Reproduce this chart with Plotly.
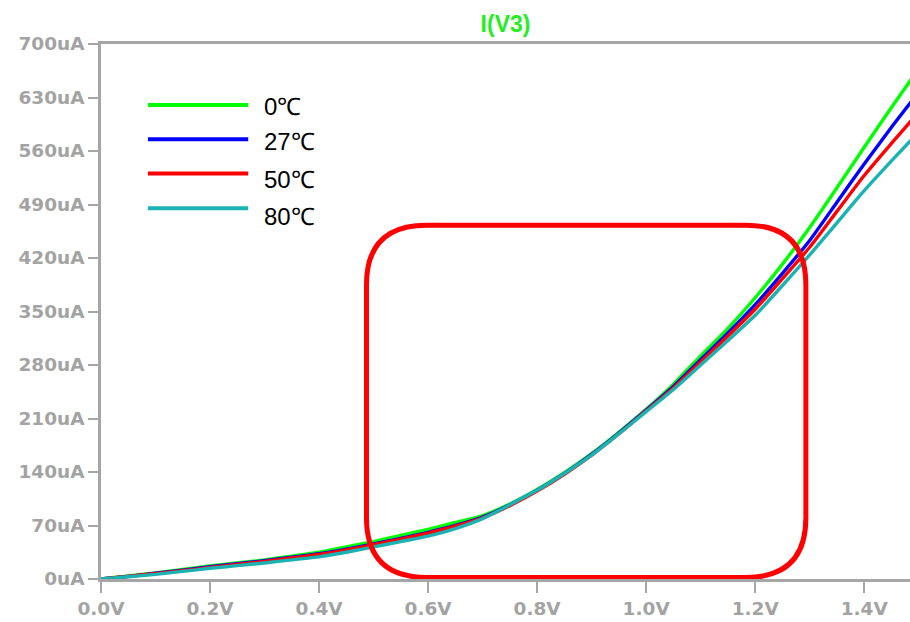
import plotly.graph_objects as go

# ---- data ----
voltage = [0, 0.05, 0.1, 0.15, 0.2, 0.25, 0.3, 0.35, 0.4, 0.45, 0.5, 0.55, 0.6, 0.65,
           0.7, 0.75, 0.8, 0.85, 0.9, 0.95, 1.0, 1.05, 1.1, 1.15, 1.2, 1.25, 1.3,
           1.35, 1.4, 1.45, 1.5]
i_0C = [0, 4, 8, 12.5, 17, 21, 25, 30, 35, 42, 49, 57, 65, 74, 83, 98, 117, 139, 164,
        192, 222, 255, 292, 328, 368, 412, 460, 512, 565, 617, 668]
i_27C = [0, 3.5, 7.5, 11.5, 16, 20, 24, 28.5, 33, 39, 46, 53, 61, 70, 81, 97, 116, 138,
         163, 191, 221, 252, 287, 322, 359, 400, 443, 493, 543, 591, 637]
i_50C = [0, 3.5, 7, 11, 15, 19, 23, 27.5, 32, 38, 45, 52, 60, 69, 80, 96, 115, 137, 162,
         190, 220, 250, 284, 318, 353, 393, 434, 481, 528, 570, 611]
i_80C = [0, 3, 6, 10, 14, 17.5, 21, 25, 29, 35, 42, 49, 56, 66, 79, 97, 116, 138, 162,
         190, 219, 248, 280, 312, 345, 384, 424, 466, 508, 547, 585]

series_names = ["0℃", "27℃", "50℃", "80℃"]
series_colors = ["#00ff00", "#0000ff", "#ff0000", "#1ab2b2"]
series_values = [i_0C, i_27C, i_50C, i_80C]

x_tickvals = [0.0, 0.2, 0.4, 0.6, 0.8, 1.0, 1.2, 1.4]
x_ticktext = ["0.0V", "0.2V", "0.4V", "0.6V", "0.8V", "1.0V", "1.2V", "1.4V"]
y_tickvals = [0, 70, 140, 210, 280, 350, 420, 490, 560, 630, 700]
y_ticktext = ["0uA", "70uA", "140uA", "210uA", "280uA", "350uA", "420uA",
              "490uA", "560uA", "630uA", "700uA"]

title_text = "I(V3)"

# highlight box (data units): x0, x1, y0, y1, corner radius in x and y
box_x0, box_x1, box_y0, box_y1 = 0.487, 1.293, 2, 463
box_rx, box_ry = 0.11, 78

# ---- figure ----
fig = go.Figure()
for name, color, vals in zip(series_names, series_colors, series_values):
    fig.add_trace(go.Scatter(x=voltage, y=vals, mode="lines", name=name,
                             line=dict(color=color, width=3.4, shape="spline",
                                       smoothing=0.6),
                             showlegend=False))

# custom legend (paper coords)
leg_y_line = [0.886, 0.822, 0.758, 0.693]
leg_y_text = [0.884, 0.818, 0.746, 0.677]
for name, color, yl, yt in zip(series_names, series_colors, leg_y_line, leg_y_text):
    fig.add_shape(type="line", xref="paper", yref="paper", x0=0.058, x1=0.182,
                  y0=yl, y1=yl, line=dict(color=color, width=4))
    fig.add_annotation(xref="paper", yref="paper", x=0.199, y=yt, text=name,
                       showarrow=False, xanchor="left", yanchor="middle",
                       font=dict(family="Liberation Sans, Arial", size=24, color="#000000"))

# rounded red rectangle
path = (f"M {box_x0 + box_rx},{box_y0} L {box_x1 - box_rx},{box_y0} "
        f"Q {box_x1},{box_y0} {box_x1},{box_y0 + box_ry} "
        f"L {box_x1},{box_y1 - box_ry} "
        f"Q {box_x1},{box_y1} {box_x1 - box_rx},{box_y1} "
        f"L {box_x0 + box_rx},{box_y1} "
        f"Q {box_x0},{box_y1} {box_x0},{box_y1 - box_ry} "
        f"L {box_x0},{box_y0 + box_ry} "
        f"Q {box_x0},{box_y0} {box_x0 + box_rx},{box_y0} Z")
fig.add_shape(type="path", path=path, xref="x", yref="y",
              line=dict(color="#ff0000", width=5))

axis_gray = "#a6a6a6"
tick_font = dict(family="DejaVu Sans", size=18.5, color="#a3a3a3", weight="bold")

fig_w, fig_h = 910, 622
fig.update_layout(
    width=fig_w, height=fig_h,
    margin=dict(l=101, r=0, t=44, b=43),
    paper_bgcolor="white", plot_bgcolor="white",
    title=dict(text=title_text, x=505.5 / fig_w, xanchor="center",
               y=1 - 24 / fig_h, yanchor="middle",
               font=dict(family="Liberation Sans, Arial", size=23, color="#22ee22",
                         weight="bold")),
    xaxis=dict(range=[0, 1.484], tickvals=x_tickvals, ticktext=x_ticktext,
               showgrid=False, zeroline=False, showline=True, linecolor=axis_gray,
               linewidth=2.5, mirror=True, ticks="outside", ticklen=11, tickwidth=2,
               tickcolor=axis_gray, tickfont=tick_font),
    yaxis=dict(range=[0, 700], tickvals=y_tickvals, ticktext=y_ticktext,
               showgrid=False, zeroline=False, showline=True, linecolor=axis_gray,
               linewidth=2.5, ticks="outside", ticklen=10, tickwidth=2,
               tickcolor=axis_gray, tickfont=tick_font),
)

# remove the browser's default 8px body margin so the figure fills the window
fig.write_html("out.html",
               config={"displayModeBar": False},
               post_script="document.body.style.margin='0';"
                           "document.body.style.overflow='hidden';")
